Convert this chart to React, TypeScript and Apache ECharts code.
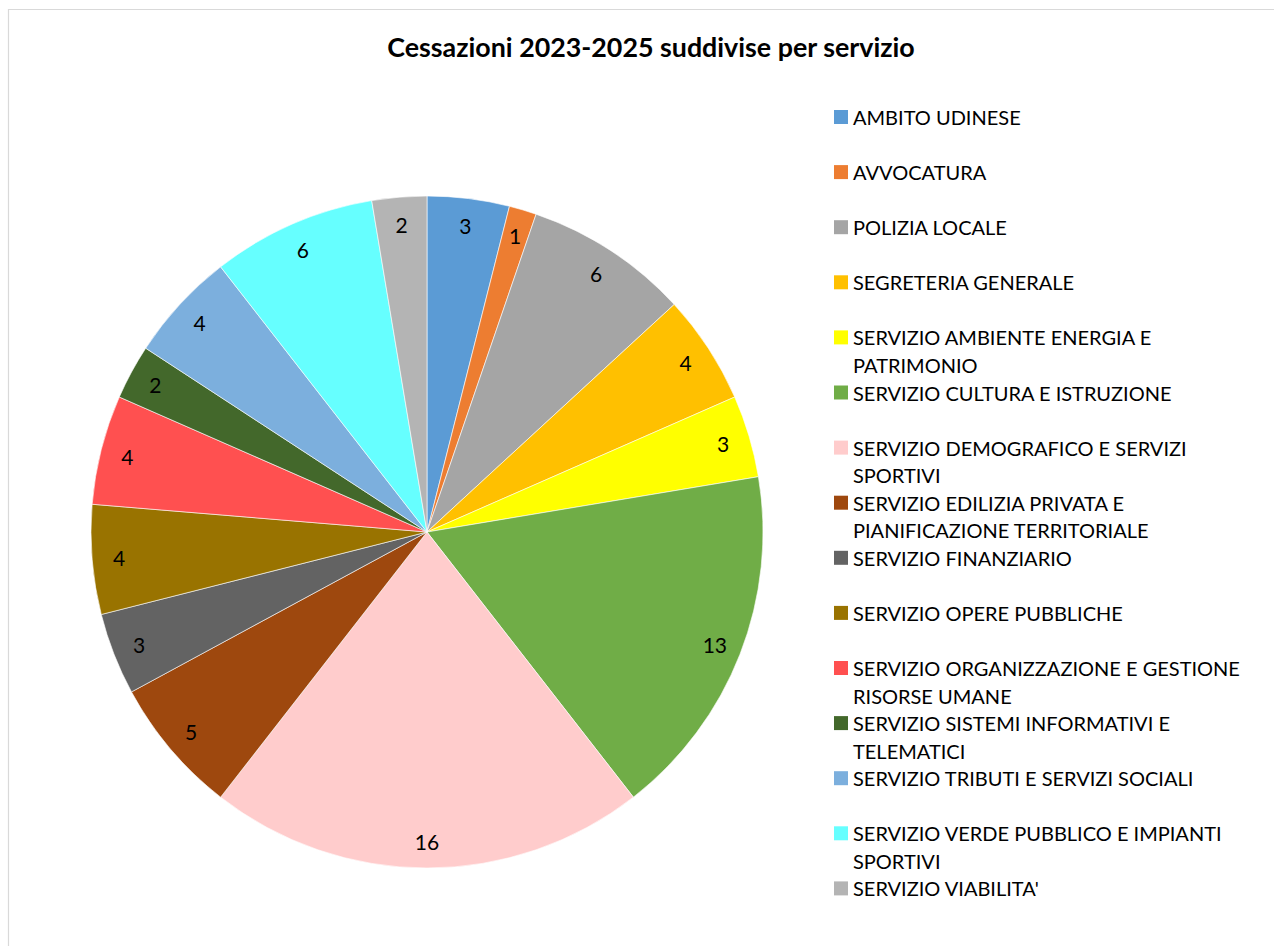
import React, { useEffect, useRef } from "react";
import * as echarts from "echarts";

const titleText = "Cessazioni 2023-2025 suddivise per servizio";

const categories = [
  "AMBITO UDINESE",
  "AVVOCATURA",
  "POLIZIA LOCALE",
  "SEGRETERIA GENERALE",
  "SERVIZIO AMBIENTE ENERGIA E PATRIMONIO",
  "SERVIZIO CULTURA E ISTRUZIONE",
  "SERVIZIO DEMOGRAFICO E SERVIZI SPORTIVI",
  "SERVIZIO EDILIZIA PRIVATA E PIANIFICAZIONE TERRITORIALE",
  "SERVIZIO FINANZIARIO",
  "SERVIZIO OPERE PUBBLICHE",
  "SERVIZIO ORGANIZZAZIONE E GESTIONE RISORSE UMANE",
  "SERVIZIO SISTEMI INFORMATIVI E TELEMATICI",
  "SERVIZIO TRIBUTI E SERVIZI SOCIALI",
  "SERVIZIO VERDE PUBBLICO E IMPIANTI SPORTIVI",
  "SERVIZIO VIABILITA'",
];

const values = [3, 1, 6, 4, 3, 13, 16, 5, 3, 4, 4, 2, 4, 6, 2];

const colors = [
  "#5B9BD5",
  "#ED7D31",
  "#A5A5A5",
  "#FFC000",
  "#FFFF00",
  "#70AD47",
  "#FFCCCC",
  "#9E480E",
  "#636363",
  "#997300",
  "#FF5050",
  "#43682B",
  "#7CAFDD",
  "#66FFFF",
  "#B4B4B4",
];

// legend text as it wraps in the reference: [first line, second line]
const legendLines: string[][] = [
  ["AMBITO UDINESE", ""],
  ["AVVOCATURA", ""],
  ["POLIZIA LOCALE", ""],
  ["SEGRETERIA GENERALE", ""],
  ["SERVIZIO AMBIENTE ENERGIA E", "PATRIMONIO"],
  ["SERVIZIO CULTURA E ISTRUZIONE", ""],
  ["SERVIZIO DEMOGRAFICO E SERVIZI", "SPORTIVI"],
  ["SERVIZIO EDILIZIA PRIVATA E", "PIANIFICAZIONE TERRITORIALE"],
  ["SERVIZIO FINANZIARIO", ""],
  ["SERVIZIO OPERE PUBBLICHE", ""],
  ["SERVIZIO ORGANIZZAZIONE E GESTIONE", "RISORSE UMANE"],
  ["SERVIZIO SISTEMI INFORMATIVI E", "TELEMATICI"],
  ["SERVIZIO TRIBUTI E SERVIZI SOCIALI", ""],
  ["SERVIZIO VERDE PUBBLICO E IMPIANTI", "SPORTIVI"],
  ["SERVIZIO VIABILITA'", ""],
];

const FONT = "Lato";

export default function App() {
  const ref = useRef<HTMLDivElement>(null);

  useEffect(() => {
    if (!ref.current) return;
    const chart = echarts.init(ref.current, undefined, { renderer: "svg" });

    const legendLeft = 834;
    const iconTop = 110;
    const iconSize = 14;
    const textLineHeight = 20;
    const step = 55.1;
    const lineGap = 27.5;

    const firstLine: Record<string, string> = {};
    categories.forEach((c, i) => (firstLine[c] = legendLines[i][0]));

    const secondLineTexts: any[] = [];
    legendLines.forEach((l, i) => {
      if (l[1]) {
        secondLineTexts.push({
          type: "text",
          x: legendLeft + iconSize + 5,
          y: iconTop + iconSize / 2 + step * i + lineGap,
          style: {
            text: l[1],
            fill: "#000",
            font: `20px ${FONT}`,
            textAlign: "left",
            textVerticalAlign: "middle",
            verticalAlign: "middle",
          },
        });
      }
    });

    const pieData = categories.map((name, i) => ({
      name,
      value: values[i],
      itemStyle: { color: colors[i] },
    }));

    chart.setOption({
      animation: false,
      backgroundColor: "#ffffff",
      graphic: [
        {
          type: "rect",
          shape: { x: 8.5, y: 9.5, width: 1300, height: 1000 },
          style: { fill: "none", stroke: "#d9d9d9", lineWidth: 1.2 },
          silent: true,
          z: 0,
        },
        {
          type: "text",
          x: 651,
          y: 47,
          style: {
            text: titleText,
            fill: "#000",
            font: `bold 26.8px ${FONT}`,
            textAlign: "center",
            textVerticalAlign: "middle",
            verticalAlign: "middle",
          },
        },
        ...secondLineTexts,
      ],
      legend: {
        orient: "vertical",
        left: legendLeft,
        top: iconTop - (textLineHeight - iconSize) / 2,
        padding: 0,
        itemWidth: iconSize,
        itemHeight: iconSize,
        itemGap: step - textLineHeight,
        icon: "rect",
        selectedMode: false,
        data: categories.map((name, i) => ({
          name,
          itemStyle: { color: colors[i], borderWidth: 0 },
        })),
        formatter: (name: string) => firstLine[name] || name,
        textStyle: {
          fontFamily: FONT,
          fontSize: 20,
          color: "#000",
          lineHeight: textLineHeight,
        },
      },
      series: [
        {
          type: "pie",
          center: [427, 532],
          radius: [0, 336],
          startAngle: 90,
          clockwise: true,
          avoidLabelOverlap: false,
          label: { show: false },
          labelLine: { show: false },
          itemStyle: { borderColor: "#ffffff", borderWidth: 0.6 },
          emphasis: { disabled: true },
          data: pieData,
        },
        {
          type: "pie",
          center: [427, 532],
          radius: [276, 336],
          startAngle: 90,
          clockwise: true,
          silent: true,
          legendHoverLink: false,
          avoidLabelOverlap: false,
          minShowLabelAngle: 0,
          itemStyle: { color: "rgba(0,0,0,0)", borderWidth: 0 },
          label: {
            show: true,
            position: "inside",
            formatter: "{c}",
            fontFamily: FONT,
            fontSize: 21,
            color: "#000",
          },
          labelLine: { show: false },
          emphasis: { disabled: true },
          data: categories.map((name, i) => ({ name, value: values[i] })),
        },
      ],
    });

    return () => chart.dispose();
  }, []);

  return (
    <div
      ref={ref}
      style={{ position: "absolute", left: 0, top: 0, width: 1274, height: 946 }}
    />
  );
}
